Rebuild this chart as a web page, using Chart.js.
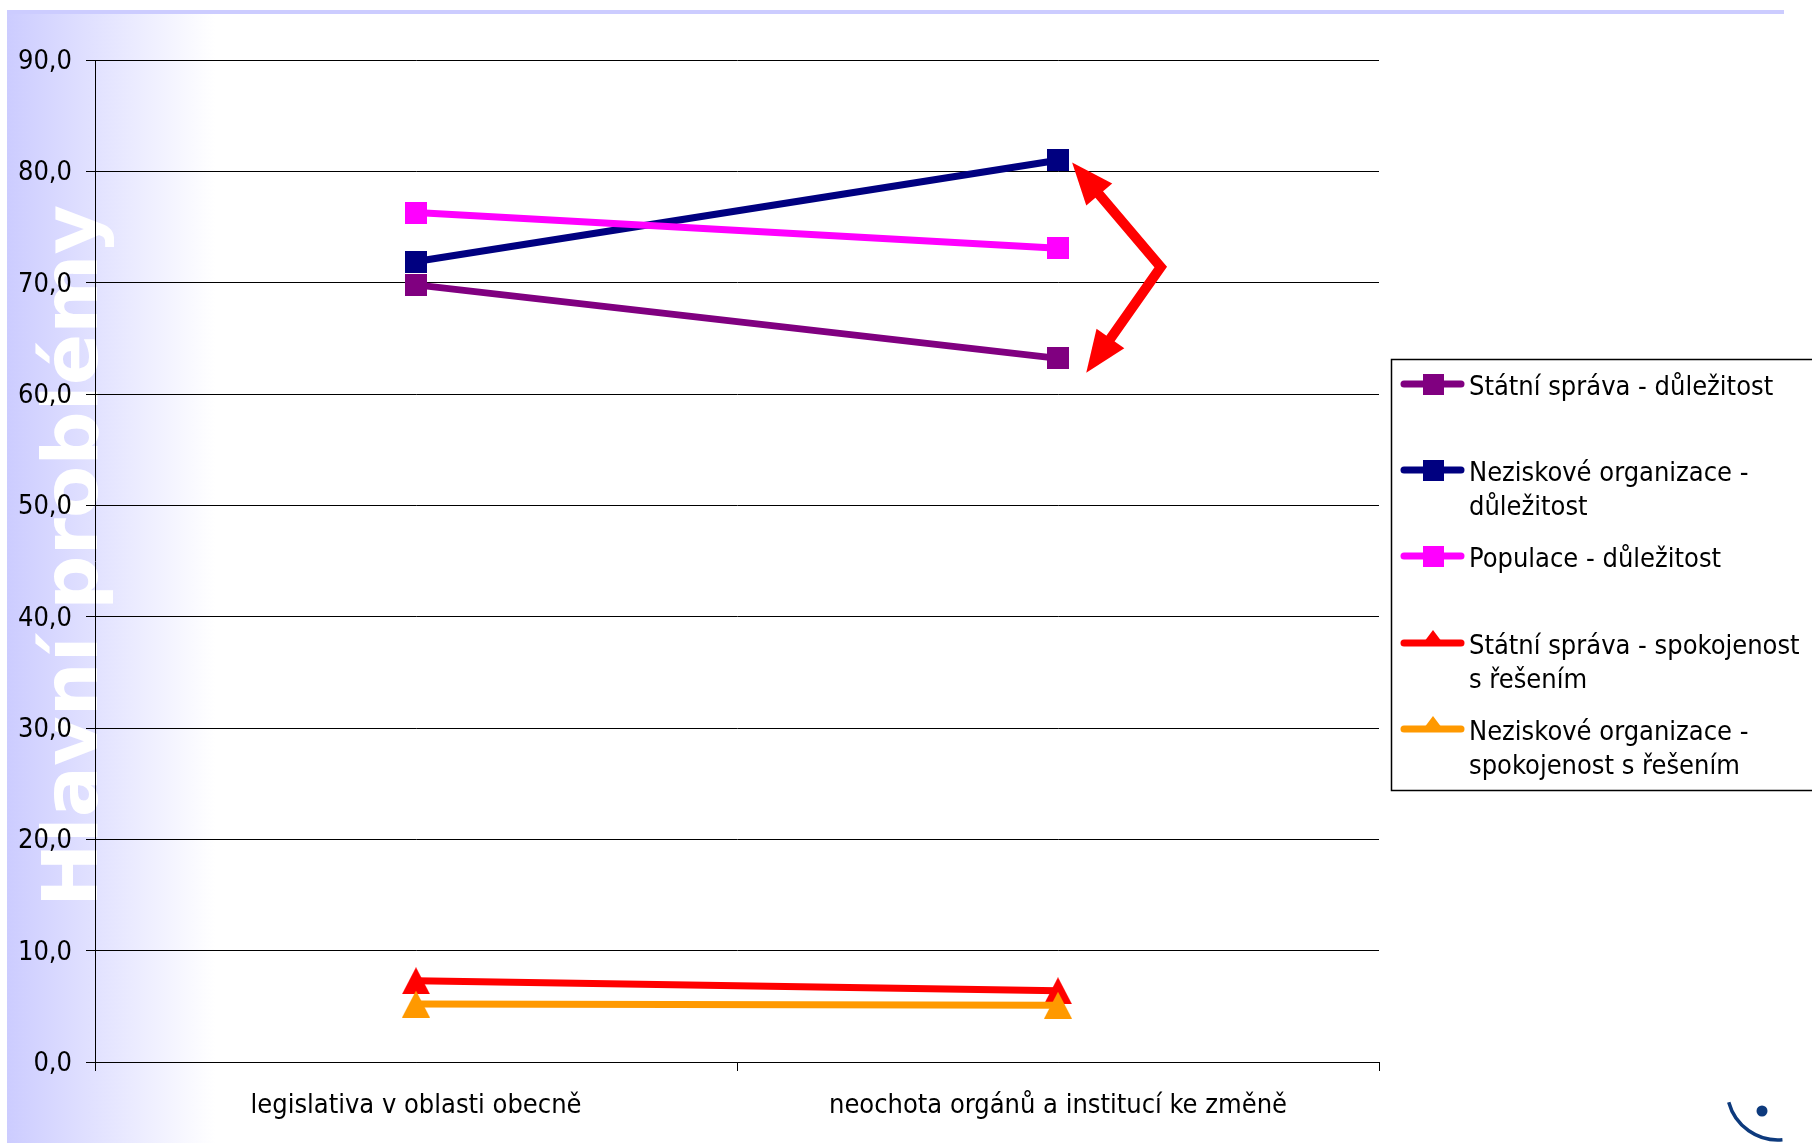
<!DOCTYPE html>
<html>
<head>
<meta charset="utf-8">
<script src="https://cdn.jsdelivr.net/npm/chart.js@4.4.1/dist/chart.umd.min.js"></script>
<style>
  html, body { margin: 0; padding: 0; background: #fff; }
  #wrap { width: 1812px; height: 1143px; }
</style>
</head>
<body>
<div id="wrap"><canvas id="chart" width="1812" height="1143"></canvas></div>
<script>
// Categories and series values
const categories = ['legislativa v oblasti obecně', 'neochota orgánů a institucí ke změně'];
const seriesNames = [
    'Státní správa - důležitost',
    'Neziskové organizace -\ndůležitost',
    'Populace - důležitost',
    'Státní správa - spokojenost\ns řešením',
    'Neziskové organizace -\nspokojenost s řešením',
];
const statniDulezitost = [69.8, 63.2];
const neziskoveDulezitost = [71.9, 81.0];
const populaceDulezitost = [76.3, 73.1];
const statniSpokojenost = [7.3, 6.4];
const neziskoveSpokojenost = [5.2, 5.1];

const yTickLabels = ['0,0', '10,0', '20,0', '30,0', '40,0', '50,0', '60,0', '70,0', '80,0', '90,0'];
const sideTitle = 'Hlavní problémy';

// red double arrow, in data units (x = category index, y = value)
const arrowVertex = { x: 1.16, y: 71.4 };
const arrowTips = [{ x: 1.022, y: 80.8 }, { x: 1.044, y: 61.9 }];

const FONT = '"DejaVu Sans Condensed", "DejaVu Sans", sans-serif';

function makeMarker(shape, color, w, h) {
    const c = document.createElement('canvas');
    c.width = w;
    c.height = h;
    const g = c.getContext('2d');
    g.fillStyle = color;
    if (shape === 'square') {
        g.fillRect(0, 0, w, h);
    } else {
        g.beginPath();
        g.moveTo(w / 2, 0);
        g.lineTo(w, h);
        g.lineTo(0, h);
        g.closePath();
        g.fill();
    }
    return c;
}

const styles = [
    { color: '#800080', shape: 'square' },
    { color: '#000080', shape: 'square' },
    { color: '#ff00ff', shape: 'square' },
    { color: '#ff0000', shape: 'triangle' },
    { color: '#ff9900', shape: 'triangle' },
];
const values = [statniDulezitost, neziskoveDulezitost, populaceDulezitost, statniSpokojenost, neziskoveSpokojenost];

const datasets = values.map((v, i) => {
    const s = styles[i];
    const marker = s.shape === 'square'
        ? makeMarker('square', s.color, 22, 22)
        : makeMarker('triangle', s.color, 28, 27);
    return {
        label: seriesNames[i],
        data: v,
        borderColor: s.color,
        backgroundColor: s.color,
        borderWidth: 7,
        pointStyle: marker,
        pointRadius: 12,
        tension: 0,
        fill: false,
        order: 4 - i,
        shape: s.shape,
    };
});

const backdropPlugin = {
    id: 'backdrop',
    beforeDraw(chart) {
        const ctx = chart.ctx;
        ctx.save();
        const grad = ctx.createLinearGradient(7, 0, 215, 0);
        grad.addColorStop(0, '#ccccff');
        grad.addColorStop(1, '#ffffff');
        ctx.fillStyle = grad;
        ctx.fillRect(7, 10, 215, 1133);
        ctx.fillStyle = '#ccccff';
        ctx.fillRect(7, 10, 1777, 4);

        ctx.translate(97, 907);
        ctx.rotate(-Math.PI / 2);
        ctx.fillStyle = '#ffffff';
        ctx.font = 'bold 76px "DejaVu Sans", sans-serif';
        ctx.textAlign = 'left';
        ctx.textBaseline = 'alphabetic';
        ctx.fillText(sideTitle, 0, 0);
        ctx.restore();
    },
};

const arrowPlugin = {
    id: 'redArrow',
    afterDatasetsDraw(chart) {
        const { ctx, scales: { x, y } } = chart;
        const v = { x: x.getPixelForValue(arrowVertex.x), y: y.getPixelForValue(arrowVertex.y) };
        const heads = arrowTips.map(t => {
            const tip = { x: x.getPixelForValue(t.x), y: y.getPixelForValue(t.y) };
            const ang = Math.atan2(tip.y - v.y, tip.x - v.x);
            return { tip, ang };
        });
        const headLen = 42;
        const headHalf = 17;
        ctx.save();
        ctx.strokeStyle = '#ff0000';
        ctx.fillStyle = '#ff0000';
        ctx.lineWidth = 10;
        ctx.lineJoin = 'miter';
        ctx.beginPath();
        heads.forEach((h, i) => {
            const bx = h.tip.x - Math.cos(h.ang) * (headLen - 4);
            const by = h.tip.y - Math.sin(h.ang) * (headLen - 4);
            if (i === 0) {
                ctx.moveTo(bx, by);
                ctx.lineTo(v.x, v.y);
            } else {
                ctx.lineTo(bx, by);
            }
        });
        ctx.stroke();
        heads.forEach(h => {
            const bx = h.tip.x - Math.cos(h.ang) * headLen;
            const by = h.tip.y - Math.sin(h.ang) * headLen;
            const px = -Math.sin(h.ang) * headHalf;
            const py = Math.cos(h.ang) * headHalf;
            ctx.beginPath();
            ctx.moveTo(h.tip.x, h.tip.y);
            ctx.lineTo(bx + px, by + py);
            ctx.lineTo(bx - px, by - py);
            ctx.closePath();
            ctx.fill();
        });
        ctx.restore();
    },
};

const legendPlugin = {
    id: 'boxLegend',
    afterDraw(chart) {
        const ctx = chart.ctx;
        const rows = [384, 470, 556, 643, 729];
        ctx.save();
        ctx.strokeStyle = '#000';
        ctx.lineWidth = 1.5;
        ctx.strokeRect(1391.5, 359.5, 460, 431);
        ctx.font = '27px ' + FONT;
        ctx.textAlign = 'left';
        ctx.textBaseline = 'middle';
        chart.data.datasets.forEach((ds, i) => {
            const ly = rows[i];
            ctx.strokeStyle = ds.borderColor;
            ctx.fillStyle = ds.borderColor;
            ctx.lineWidth = 7;
            ctx.lineCap = 'round';
            ctx.beginPath();
            ctx.moveTo(1404, ly);
            ctx.lineTo(1461, ly);
            ctx.stroke();
            if (ds.shape === 'square') {
                ctx.fillRect(1423, ly - 10, 21, 21);
            } else {
                ctx.beginPath();
                ctx.moveTo(1433, ly - 13);
                ctx.lineTo(1445, ly + 3);
                ctx.lineTo(1421, ly + 3);
                ctx.closePath();
                ctx.fill();
            }
            ctx.fillStyle = '#000';
            ds.label.split('\n').forEach((line, k) => {
                ctx.fillText(line, 1469, ly + 4 + k * 34);
            });
        });

        // small logo, bottom right
        ctx.strokeStyle = '#0d3a7d';
        ctx.fillStyle = '#0d3a7d';
        ctx.lineWidth = 3.5;
        ctx.lineCap = 'butt';
        ctx.beginPath();
        ctx.arc(1778, 1089, 51, 85 * Math.PI / 180, 165 * Math.PI / 180);
        ctx.stroke();
        ctx.beginPath();
        ctx.arc(1762, 1111, 5.5, 0, Math.PI * 2);
        ctx.fill();
        ctx.restore();
    },
};

new Chart(document.getElementById('chart'), {
    type: 'line',
    data: { labels: categories, datasets: datasets },
    options: {
        responsive: false,
        animation: false,
        devicePixelRatio: 1,
        events: [],
        layout: { padding: { top: 60, right: 433, bottom: 0, left: 0 } },
        plugins: {
            legend: { display: false },
            tooltip: { enabled: false },
        },
        scales: {
            x: {
                offset: true,
                grid: {
                    offset: true,
                    drawOnChartArea: false,
                    tickLength: 9,
                    color: '#000',
                },
                border: { color: '#000', width: 1 },
                ticks: {
                    color: '#000',
                    padding: 19,
                    maxRotation: 0,
                    font: { family: FONT, size: 27 },
                },
                afterFit(scale) { scale.height = 81; },
            },
            y: {
                min: 0,
                max: 90,
                grid: {
                    color: '#000',
                    lineWidth: 1,
                    tickLength: 9,
                },
                border: { color: '#000', width: 1 },
                ticks: {
                    stepSize: 10,
                    color: '#000',
                    padding: 14,
                    labelOffset: 2,
                    font: { family: FONT, size: 27 },
                    callback: (value, index) => yTickLabels[index],
                },
                afterFit(scale) { scale.width = 95; },
            },
        },
    },
    plugins: [backdropPlugin, arrowPlugin, legendPlugin],
});
</script>
</body>
</html>
